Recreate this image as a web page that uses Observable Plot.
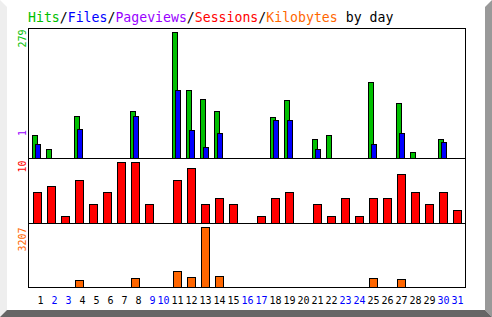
<!DOCTYPE html>
<html><head><meta charset="utf-8">
<script src="https://cdn.jsdelivr.net/npm/d3@7"></script>
<script src="https://cdn.jsdelivr.net/npm/@observablehq/plot@0.6"></script>
<style>
html,body{margin:0;padding:0;background:#fff;}
#chart{position:relative;width:492px;height:317px;overflow:hidden;background:#fff;}
#chart svg{position:absolute;left:0;top:0;}
.bevel{position:absolute;left:0;top:0;width:492px;height:317px;}
#title{position:absolute;left:28px;top:10px;font:13.2px/16px "DejaVu Sans Mono",monospace;white-space:pre;}
</style></head><body>
<div id="chart">
  <div class="bevel" style="background:#eeeeee;clip-path:polygon(0px 0px,7px 7px,7px 310px,0px 317px);"></div>
  <div class="bevel" style="background:#999999;clip-path:polygon(485px 7px,492px 0px,492px 317px,485px 310px);"></div>
  <div class="bevel" style="background:#666666;clip-path:polygon(0px 317px,7px 310px,485px 310px,492px 317px);"></div>
  <div id="title"></div>
</div>
<script>
// ---- data ----
const days = [1,2,3,4,5,6,7,8,9,10,11,12,13,14,15,16,17,18,19,20,21,22,23,24,25,26,27,28,29,30,31];
const weekendDays = [2,3,9,10,16,17,23,24,30,31];
const hits     = [51,18,0,93,0,0,0,104,0,0,279,150,131,104,0,0,0,89,128,0,42,51,0,0,168,0,122,13,0,42,0];
const files    = [31,0,0,64,0,0,0,93,0,0,150,62,24,55,0,0,0,84,84,0,20,0,0,0,31,0,55,0,0,35,0];
const sessions = [5,6,1,7,3,5,10,10,3,0,7,9,3,4,3,0,1,4,5,0,3,1,4,1,4,4,8,5,3,5,2];
const kbytes   = [0,0,0,352,0,0,0,458,0,0,828,512,3207,565,0,0,0,0,0,0,0,0,0,0,458,0,407,0,0,0,0];
const maxLabels = {hits: 279, pages: 1, sessions: 10, kbytes: 3207};
const titleParts = [
  ["Hits", "#00c000"], ["/", "#000"], ["Files", "#0000ff"], ["/", "#000"],
  ["Pageviews", "#9900ff"], ["/", "#000"], ["Sessions", "#ff0000"], ["/", "#000"],
  ["Kilobytes", "#ff6600"], [" by day", "#000"]
];
const C = {hits:"#00c000", files:"#0000ff", pages:"#9900ff", sessions:"#ff0000", kbytes:"#ff6600"};

// ---- title ----
const titleEl = document.getElementById("title");
for (const [s, c] of titleParts) { const sp = document.createElement("span"); sp.textContent = s; sp.style.color = c; titleEl.appendChild(sp); }

const FONT = '"DejaVu Sans Mono", monospace';
const xScale = {type: "band", domain: days, range: [29.5, 463.5], padding: 0, axis: null};
const nz = (arr) => days.filter(d => arr[d - 1] > 0);

function panel({marginTop, marginBottom, yMax, marks}) {
  return Plot.plot({
    width: 492, height: 317,
    marginLeft: 28, marginRight: 27, marginTop, marginBottom,
    x: xScale,
    y: {domain: [0, yMax], axis: null},
    style: {background: "transparent", fontFamily: FONT, overflow: "visible"},
    marks
  });
}
const barOpts = {stroke: "black", strokeWidth: 1, shapeRendering: "crispEdges"};
const rot = (v, color, anchor, textAnchor, dy) => Plot.text([v], {text: d => String(d), frameAnchor: anchor,
  dx: -5.3, dy, rotate: -90, textAnchor, lineAnchor: "middle", fill: color, fontSize: 10, fontFamily: FONT});

const topPanel = panel({marginTop: 28, marginBottom: 159, yMax: maxLabels.hits * 1.036, marks: [
  Plot.barY(nz(hits), {x: d => d, y: d => hits[d - 1], fill: C.hits, insetLeft: 2, insetRight: 7, ...barOpts}),
  Plot.barY(nz(files), {x: d => d, y: d => files[d - 1], fill: C.files, insetLeft: 5, insetRight: 4, ...barOpts}),
  Plot.frame({stroke: "black", shapeRendering: "crispEdges"}),
  rot(maxLabels.hits, C.hits, "top-left", "end", 1),
  rot(maxLabels.pages, C.pages, "bottom-left", "middle", -25.5)
]});

const midPanel = panel({marginTop: 158, marginBottom: 94, yMax: maxLabels.sessions * 1.08, marks: [
  Plot.barY(nz(sessions), {x: d => d, y: d => sessions[d - 1], fill: C.sessions, insetLeft: 3, insetRight: 3, ...barOpts}),
  Plot.frame({stroke: "black", shapeRendering: "crispEdges"}),
  rot(maxLabels.sessions, C.sessions, "top-left", "end", 2)
]});

const botPanel = panel({marginTop: 223, marginBottom: 30, yMax: maxLabels.kbytes * 1.081, marks: [
  Plot.barY(nz(kbytes), {x: d => d, y: d => kbytes[d - 1], fill: C.kbytes, insetLeft: 3, insetRight: 3, ...barOpts}),
  Plot.frame({stroke: "black", shapeRendering: "crispEdges"}),
  rot(maxLabels.kbytes, C.kbytes, "top-left", "end", 4),
  Plot.text(days, {x: d => d, text: d => String(d), frameAnchor: "bottom", dx: 6, dy: 12.8,
    textAnchor: "end", lineAnchor: "middle", fontSize: 10, fontFamily: FONT,
    fill: d => weekendDays.includes(d) ? "#0000ff" : "#000000"})
]});

const chart = document.getElementById("chart");
chart.appendChild(topPanel); chart.appendChild(midPanel); chart.appendChild(botPanel);
</script>
</body></html>
